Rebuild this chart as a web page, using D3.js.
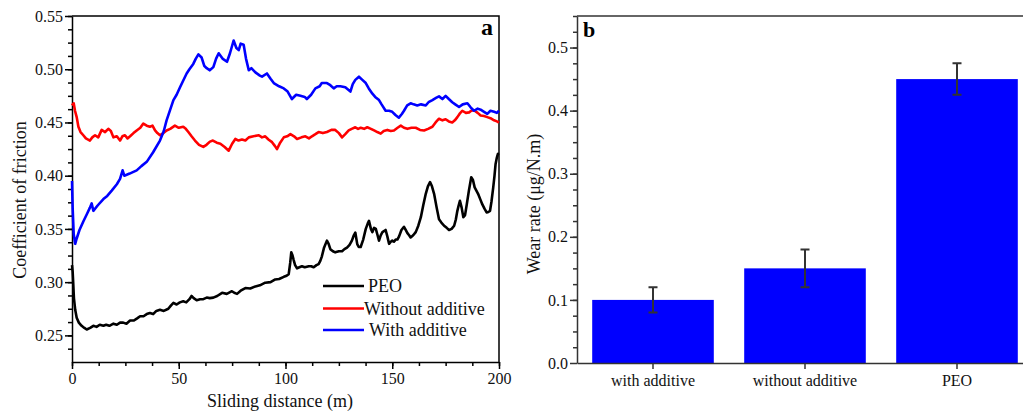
<!DOCTYPE html>
<html>
<head>
<meta charset="utf-8">
<script src="https://cdn.jsdelivr.net/npm/d3@7"></script>
<style>
  body { margin: 0; background: #fff; }
  svg { display: block; font-family: "Liberation Serif", "Times New Roman", serif; }
  .axis path, .axis line { stroke-width: 1.5; }
</style>
</head>
<body>
<div id="chart"></div>
<script>
// Dati (a): distanza (m), coefficiente di attrito
const peoPts = [[0,0.316],[0.3,0.31],[0.6,0.298],[0.9,0.285],[1.5,0.274],[2.2,0.2665],[3.2,0.262],[4.5,0.259],[5.8,0.257],[6.9,0.2555],[8.5,0.257],[10,0.259],[11.5,0.258],[13,0.260],[14.7,0.259],[16,0.260],[17.5,0.259],[19.4,0.261],[21,0.260],[22.5,0.262],[24,0.262],[25.5,0.261],[27.2,0.264],[29,0.264],[30.5,0.266],[31.9,0.268],[33.5,0.268],[35,0.270],[36.5,0.271],[38,0.270],[39.5,0.273],[41.2,0.274],[43,0.273],[45.1,0.275],[46.3,0.278],[47.5,0.2805],[49,0.279],[50.5,0.281],[52.1,0.282],[53.5,0.281],[55,0.284],[56,0.287],[57,0.285],[58.4,0.283],[60,0.284],[61.5,0.284],[63.1,0.2855],[64.5,0.285],[66.2,0.2855],[68,0.287],[70.3,0.290],[72.5,0.289],[74.9,0.2915],[76,0.290],[77.3,0.289],[79,0.292],[81.2,0.2945],[83.5,0.294],[85.9,0.296],[88,0.297],[90.5,0.2995],[93,0.300],[95.2,0.3025],[97,0.303],[99.2,0.305],[100.5,0.306],[101.5,0.3075],[102.2,0.318],[102.7,0.328],[103.3,0.325],[103.8,0.321],[104.5,0.316],[105.4,0.313],[106.5,0.314],[107.7,0.315],[109,0.314],[110.9,0.315],[112,0.315],[113.2,0.314],[114.5,0.316],[115.5,0.317],[116.3,0.320],[117,0.324],[118,0.332],[119.4,0.339],[120.2,0.336],[121,0.331],[122.2,0.329],[123.3,0.328],[125,0.329],[126.5,0.329],[127.6,0.331],[128.8,0.3325],[130,0.335],[131.1,0.339],[132,0.344],[132.7,0.3466],[133.6,0.3357],[134.3,0.333],[135.2,0.333],[136.4,0.340],[137.6,0.350],[138.5,0.355],[139.1,0.3576],[140,0.350],[140.7,0.347],[141.5,0.351],[142.3,0.350],[143,0.345],[143.8,0.339],[144.6,0.344],[145.4,0.347],[146.9,0.349],[147.7,0.343],[148.5,0.336],[149.3,0.338],[150,0.339],[150.8,0.338],[151.6,0.340],[152.4,0.340],[153.2,0.343],[154.3,0.349],[155.5,0.352],[156.3,0.349],[157.1,0.346],[157.9,0.344],[158.6,0.342],[159.8,0.344],[161,0.347],[162.2,0.353],[163.4,0.361],[164.5,0.372],[165.7,0.383],[166.7,0.390],[167.7,0.394],[168.6,0.390],[169.6,0.383],[170.8,0.370],[171.9,0.359],[173,0.356],[174.3,0.353],[175.5,0.351],[176.6,0.349],[177.8,0.350],[179,0.353],[179.8,0.359],[180.5,0.367],[181.1,0.372],[181.7,0.3765],[182.5,0.370],[183.3,0.361],[184.1,0.363],[184.9,0.373],[185.9,0.386],[187,0.3985],[187.8,0.396],[188.6,0.389],[189.4,0.386],[190.2,0.383],[191.2,0.378],[192.2,0.373],[193.2,0.369],[194.2,0.3655],[195,0.366],[195.8,0.367],[196.5,0.376],[197.3,0.389],[197.9,0.400],[198.4,0.411],[199,0.417],[199.5,0.4205],[200,0.421]];

const withoutPts = [[0,0.466],[0.8,0.468],[1.4,0.461],[2.2,0.455],[3,0.446],[4,0.441],[5.3,0.438],[6.5,0.435],[8.4,0.433],[9.5,0.436],[10.8,0.438],[12.3,0.436],[13.9,0.443],[15.5,0.441],[17,0.444],[18.2,0.442],[19.4,0.436],[21,0.437],[22.5,0.433],[23.6,0.437],[24.8,0.438],[26,0.435],[27.2,0.437],[28.8,0.440],[30.3,0.4425],[32,0.445],[33.4,0.449],[35,0.447],[36.5,0.446],[37.7,0.447],[38.9,0.4425],[40,0.440],[41.2,0.438],[42.8,0.440],[44.3,0.4425],[46,0.444],[48.2,0.447],[50,0.445],[52.1,0.446],[53.3,0.444],[54.5,0.441],[56,0.437],[57.6,0.433],[59.5,0.429],[61.5,0.427],[63,0.429],[64.6,0.432],[66,0.433],[67.8,0.431],[69.5,0.430],[71.5,0.427],[73.4,0.4235],[75,0.430],[76.5,0.4345],[78,0.433],[79.6,0.434],[81.2,0.433],[82.8,0.436],[85,0.437],[87.5,0.438],[89,0.436],[90.5,0.437],[92,0.434],[93.7,0.4315],[95,0.428],[96,0.425],[97.5,0.431],[99.2,0.436],[100.8,0.437],[102.3,0.439],[104,0.437],[105.4,0.4345],[107.5,0.436],[109.3,0.437],[111,0.435],[112.4,0.437],[114,0.439],[115.5,0.441],[117.5,0.440],[119.4,0.441],[121.5,0.443],[123.3,0.443],[125,0.440],[126.5,0.436],[128,0.439],[129.6,0.4425],[131,0.444],[132.7,0.4455],[134,0.444],[135.2,0.445],[136.8,0.444],[138.3,0.4455],[140,0.444],[141.5,0.4425],[143,0.441],[144.6,0.4395],[146,0.442],[147.7,0.443],[149.3,0.442],[150.8,0.4425],[152.5,0.445],[154,0.447],[155.5,0.445],[157.1,0.444],[159,0.445],[161,0.445],[163,0.443],[164.9,0.4425],[166.8,0.444],[168.8,0.446],[170.3,0.450],[171.9,0.4535],[173.5,0.452],[175,0.453],[176.5,0.451],[178.1,0.450],[179.3,0.452],[180.5,0.455],[181.5,0.458],[182.8,0.461],[184.5,0.459],[186,0.4595],[187,0.461],[188.3,0.4615],[190,0.459],[191.4,0.4565],[193,0.456],[194.5,0.455],[196,0.454],[197.7,0.452],[199,0.451],[200,0.450]];

const withPts = [[0,0.395],[0.3,0.37],[0.8,0.345],[1.5,0.336],[2.2,0.341],[3.5,0.349],[5.3,0.357],[7,0.364],[8.4,0.370],[9.2,0.374],[10,0.367],[12,0.372],[14.7,0.378],[16.5,0.381],[18.6,0.386],[21,0.392],[22.5,0.397],[23.7,0.405],[24.5,0.400],[27,0.402],[30.3,0.405],[32.5,0.409],[35,0.413],[38,0.422],[41.2,0.433],[43,0.442],[44.3,0.452],[46,0.462],[47.5,0.471],[49,0.476],[50.6,0.483],[52,0.489],[53.7,0.496],[55,0.500],[56.8,0.505],[58,0.510],[59.2,0.514],[60.7,0.511],[62,0.503],[63.1,0.501],[64.5,0.499],[66.2,0.502],[67.5,0.510],[68.7,0.515],[70.5,0.510],[72.6,0.507],[74,0.515],[75.7,0.527],[77,0.520],[78.1,0.518],[79,0.524],[80.4,0.523],[81.5,0.510],[82.8,0.499],[84,0.501],[85.9,0.497],[88,0.494],[89,0.493],[91.3,0.496],[93,0.491],[94.5,0.487],[97,0.484],[99.2,0.482],[101,0.479],[103,0.472],[105,0.476],[107,0.475],[109,0.474],[110,0.472],[112,0.476],[114,0.482],[116,0.484],[117,0.487],[119.4,0.487],[121,0.485],[122.6,0.482],[124,0.484],[125.7,0.484],[128,0.483],[130.4,0.479],[131.5,0.486],[132.7,0.490],[134.4,0.493],[136,0.490],[137.6,0.487],[139,0.482],[140.7,0.477],[142,0.474],[143.8,0.471],[145,0.467],[146.9,0.461],[148.5,0.461],[150,0.460],[151.5,0.457],[153.1,0.4545],[154.5,0.458],[155.5,0.461],[157,0.466],[158.6,0.468],[160,0.467],[161.7,0.466],[163.5,0.467],[165.7,0.466],[167,0.469],[168.8,0.471],[170.5,0.473],[171.9,0.4745],[173.5,0.472],[175,0.475],[176.5,0.472],[178.1,0.469],[179.5,0.467],[181.3,0.4645],[183,0.467],[185.2,0.468],[186.8,0.464],[188.3,0.461],[190,0.463],[191.4,0.462],[193,0.460],[194.5,0.458],[196,0.461],[197.7,0.460],[199,0.459],[200,0.461]];

const seriesNames = ["PEO", "Without additive", "With additive"];
const seriesColors = ["#000000", "#ff0000", "#0000ff"];

const xTicksA = [0, 50, 100, 150, 200];
const yTicksA = [0.25, 0.30, 0.35, 0.40, 0.45, 0.50, 0.55];

// Dati del grafico (b): tasso di usura
const categories = ["with additive", "without additive", "PEO"];
const wearRate = [0.10, 0.15, 0.45];
const wearErr = [0.02, 0.03, 0.025];
const yTicksB = [0.0, 0.1, 0.2, 0.3, 0.4, 0.5];

const width = 1023;
const height = 414;
const serif = '"Liberation Serif", "Times New Roman", serif';

const svg = d3.select("#chart").append("svg")
  .attr("width", width).attr("height", height);

// stile comune delle etichette degli assi
function styleLabels(g) {
  g.attr("font-family", serif).attr("font-size", 16);
  g.selectAll("text").attr("fill", "#111");
}

// ---------- pannello a ----------
const xA = d3.scaleLinear().domain([0, 200]).range([72, 499]);
const yA = d3.scaleLinear().domain([0.225, 0.55]).range([362, 16]);

const gA = svg.append("g");

// assi con tacche secondarie
gA.append("g").attr("class", "axis")
  .attr("transform", "translate(0,362)")
  .call(d3.axisBottom(xA).tickValues(d3.range(0, 200.1, 12.5)).tickSize(4).tickFormat(""))
  .call(g => g.select(".domain").remove());
gA.append("g").attr("class", "axis")
  .attr("transform", "translate(0,362)")
  .call(d3.axisBottom(xA).tickValues(xTicksA).tickSize(7).tickPadding(4).tickSizeOuter(0))
  .call(styleLabels);

gA.append("g").attr("class", "axis")
  .attr("transform", "translate(72,0)")
  .call(d3.axisLeft(yA).tickValues(d3.range(0.2375, 0.551, 0.0125)).tickSize(4).tickFormat(""))
  .call(g => g.select(".domain").remove());
gA.append("g").attr("class", "axis")
  .attr("transform", "translate(72,0)")
  .call(d3.axisLeft(yA).tickValues(yTicksA).tickSize(7).tickPadding(2).tickSizeOuter(0).tickFormat(d3.format(".2f")))
  .call(styleLabels);

// bordo superiore e destro
gA.append("path")
  .attr("d", `M${xA(0)},${yA(0.55)}H${xA(200)}V${yA(0.225)}`)
  .attr("fill", "none").attr("stroke", "#000").attr("stroke-width", 1.5);

const line = d3.line().x(d => xA(d[0])).y(d => yA(d[1]));

[peoPts, withoutPts, withPts].forEach((pts, i) => {
  gA.append("path")
    .datum(pts)
    .attr("d", line)
    .attr("fill", "none")
    .attr("stroke", seriesColors[i])
    .attr("stroke-width", 2.6)
    .attr("stroke-linejoin", "round");
});

// legenda
const legendY = [286, 308.5, 330];
const legendTextX = [368, 364, 369];
seriesNames.forEach((name, i) => {
  gA.append("line")
    .attr("x1", 323).attr("x2", 364)
    .attr("y1", legendY[i]).attr("y2", legendY[i])
    .attr("stroke", seriesColors[i]).attr("stroke-width", 2.6);
  gA.append("text")
    .attr("x", legendTextX[i]).attr("y", legendY[i] + 6)
    .attr("font-size", 18).attr("fill", "#111")
    .text(name);
});

gA.append("text")
  .attr("x", 493).attr("y", 35).attr("text-anchor", "end")
  .attr("font-size", 24).attr("font-weight", "bold")
  .text("a");

gA.append("text")
  .attr("x", 280).attr("y", 407).attr("text-anchor", "middle")
  .attr("font-size", 18).attr("fill", "#111")
  .text("Sliding distance (m)");

gA.append("text")
  .attr("transform", "translate(26,200) rotate(-90)")
  .attr("text-anchor", "middle")
  .attr("font-size", 18).attr("fill", "#111")
  .text("Coefficient of friction");

// ---------- pannello b ----------
const xB = d3.scaleBand().domain(categories).range([577, 1033]).paddingInner(0.2).paddingOuter(0.1);
const yB = d3.scaleLinear().domain([0, 0.55]).range([363, 16]);
const axisColor = "#333";

const gB = svg.append("g");

gB.selectAll("rect.bar")
  .data(categories)
  .join("rect")
  .attr("class", "bar")
  .attr("x", d => xB(d))
  .attr("width", xB.bandwidth())
  .attr("y", (d, i) => yB(wearRate[i]))
  .attr("height", (d, i) => yB(0) - yB(wearRate[i]))
  .attr("fill", "#0000ff");

// barre di errore
categories.forEach((c, i) => {
  const cx = xB(c) + xB.bandwidth() / 2;
  const top = yB(wearRate[i] + wearErr[i]);
  const bot = yB(wearRate[i] - wearErr[i]);
  gB.append("path")
    .attr("d", `M${cx},${top}V${bot}M${cx - 4.5},${top}H${cx + 4.5}M${cx - 4.5},${bot}H${cx + 4.5}`)
    .attr("fill", "none").attr("stroke", "#333").attr("stroke-width", 2);
});

gB.append("g").attr("class", "axis")
  .attr("transform", "translate(0,363)")
  .call(d3.axisBottom(xB).tickSize(6).tickPadding(6).tickSizeOuter(0))
  .call(g => g.selectAll("line, path").attr("stroke", axisColor))
  .call(styleLabels);

gB.append("g").attr("class", "axis")
  .attr("transform", "translate(577,0)")
  .call(d3.axisLeft(yB).tickValues(d3.range(0.025, 0.551, 0.025)).tickSize(4).tickFormat(""))
  .call(g => g.select(".domain").remove())
  .call(g => g.selectAll("line").attr("stroke", axisColor));
gB.append("g").attr("class", "axis")
  .attr("transform", "translate(577,0)")
  .call(d3.axisLeft(yB).tickValues(yTicksB).tickSize(7).tickPadding(2).tickSizeOuter(0).tickFormat(d3.format(".1f")))
  .call(g => g.selectAll("line, path").attr("stroke", axisColor))
  .call(styleLabels);

gB.append("path")
  .attr("d", `M577,${yB(0.55)}H1033`)
  .attr("fill", "none").attr("stroke", axisColor).attr("stroke-width", 1.5);

gB.append("text")
  .attr("x", 583).attr("y", 37)
  .attr("font-size", 22).attr("font-weight", "bold")
  .text("b");

gB.append("text")
  .attr("transform", "translate(540,204) rotate(-90)")
  .attr("text-anchor", "middle")
  .attr("font-size", 18).attr("fill", "#111")
  .text("Wear rate (μg/N.m)");
</script>
</body>
</html>
